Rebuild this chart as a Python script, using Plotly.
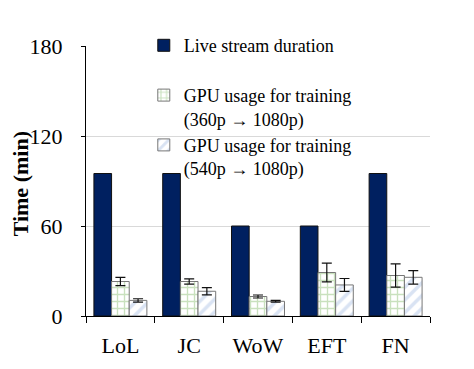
import plotly.graph_objects as go

categories = ["LoL", "JC", "WoW", "EFT", "FN"]
live_duration = [95, 95, 60, 60, 95]
gpu_360 = [23, 23, 13, 29, 27]
gpu_360_err = [2.8, 1.7, 1.0, 6.3, 7.8]
gpu_540 = [10.4, 16.5, 9.8, 20.7, 25.8]
gpu_540_err = [1.1, 2.4, 0.6, 4.3, 4.5]
y_ticks = [0, 60, 120, 180]

FONT = "Liberation Serif, Times New Roman, serif"

fig = go.Figure()
fig.add_trace(go.Bar(
    x=categories, y=live_duration, name="Live stream duration<br> ",
    marker=dict(color="#002060", line=dict(color="#111111", width=1)),
))
fig.add_trace(go.Bar(
    x=categories, y=gpu_360, name="GPU usage for training<br>(360p \u2192 1080p)",
    marker=dict(color="white", line=dict(color="#777777", width=1),
                pattern=dict(shape="+", fgcolor="#93c47d", bgcolor="white", size=7, solidity=0.35)),
    error_y=dict(type="data", array=gpu_360_err, color="#111111", thickness=1.2, width=5),
))
fig.add_trace(go.Bar(
    x=categories, y=gpu_540, name="GPU usage for training<br>(540p \u2192 1080p)",
    marker=dict(color="white", line=dict(color="#777777", width=1),
                pattern=dict(shape="/", fgcolor="#b4c7e7", bgcolor="white", size=9, solidity=0.4)),
    error_y=dict(type="data", array=gpu_540_err, color="#111111", thickness=1.2, width=5),
))

fig.update_layout(
    width=466, height=361,
    margin=dict(l=78, r=44, t=38, b=53),
    paper_bgcolor="white", plot_bgcolor="white",
    font=dict(family=FONT, size=22, color="black"),
    barmode="group", bargap=0.23, bargroupgap=0,
    showlegend=True,
    legend=dict(x=0.168, y=1.07, xanchor="left", yanchor="top",
                font=dict(family=FONT, size=18, color="black"),
                bgcolor="rgba(0,0,0,0)", valign="top", tracegroupgap=0),
    annotations=[dict(text="<b>Time (min)</b>", xref="paper", yref="paper",
                      x=-0.19, y=0.49, xanchor="center", yanchor="middle",
                      textangle=-90, showarrow=False, borderpad=0,
                      font=dict(family=FONT, size=22, color="black"))],
)
fig.update_xaxes(showline=True, linecolor="black", linewidth=1, ticks="outside",
                 tickson="boundaries", ticklen=6, tickcolor="black",
                 ticklabelstandoff=10, automargin=False,
                 tickfont=dict(family=FONT, size=22))
fig.update_yaxes(range=[0, 180], tickvals=y_ticks, showline=True, linecolor="black", linewidth=1,
                 ticks="outside", ticklen=4, tickcolor="black", showgrid=True, gridcolor="#d9d9d9",
                 zeroline=False, tickfont=dict(family=FONT, size=22), ticklabelstandoff=14,
                 automargin=False)

fig.write_html("out.html")
